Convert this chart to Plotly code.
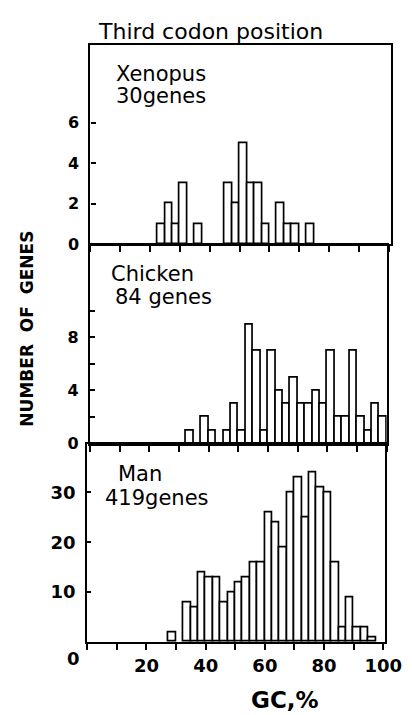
import plotly.graph_objects as go

# ---- data (GC% bin lower edge, 2.5% bins) ----
BIN_W = 2.5
xenopus_bins = [22.5, 25, 27.5, 30, 35, 45, 47.5, 50, 52.5, 55, 57.5, 62.5, 65, 67.5, 72.5]
xenopus_counts = [1, 2, 1, 3, 1, 3, 2, 5, 3, 3, 1, 2, 1, 1, 1]

chicken_bins = [32.5, 37.5, 40, 45, 47.5, 50, 52.5, 55, 57.5, 60, 62.5, 65, 67.5, 70, 72.5,
                75, 77.5, 80, 82.5, 85, 87.5, 90, 92.5, 95, 97.5]
chicken_counts = [1, 2, 1, 1, 3, 1, 9, 7, 1, 7, 4, 3, 5, 3, 3,
                  4, 3, 7, 2, 2, 7, 2, 1, 3, 2]

man_bins = [27.5, 32.5, 35, 37.5, 40, 42.5, 45, 47.5, 50, 52.5, 55, 57.5, 60, 62.5, 65,
            67.5, 70, 72.5, 75, 77.5, 80, 82.5, 85, 87.5, 90, 92.5, 95]
man_counts = [2, 8, 7, 14, 13, 13, 8, 10, 12, 13, 16, 16, 26, 24, 19,
              30, 33, 25, 34, 31, 30, 16, 3, 9, 3, 3, 1]

x_tickvals = [0, 10, 20, 30, 40, 50, 60, 70, 80, 90, 100]
x_ticktext = ["", "", "20", "", "40", "", "60", "", "80", "", "100"]
xen_yticks = [0, 2, 4, 6]
xen_ylabels = ["0", "2", "4", "6"]
chk_yticks = [0, 2, 4, 6, 8, 10]
chk_ylabels = ["0", "", "4", "", "8", ""]
man_yticks = [10, 20, 30]
man_ylabels = ["10", "20", "30"]

W, H = 412, 715
FONT = "DejaVu Sans"


def px_x(p):
    return p / W


def px_y(p):
    return 1 - p / H


def bars(bins, counts, xa, ya):
    return go.Bar(
        x=[b + BIN_W / 2 for b in bins], y=counts, width=BIN_W,
        marker=dict(color="white", line=dict(color="black", width=1.7)),
        xaxis=xa, yaxis=ya, showlegend=False, hoverinfo="x+y",
    )


fig = go.Figure()
fig.add_trace(bars(xenopus_bins, xenopus_counts, "x", "y"))
fig.add_trace(bars(chicken_bins, chicken_counts, "x2", "y2"))
fig.add_trace(bars(man_bins, man_counts, "x3", "y3"))

common_x = dict(showline=True, linecolor="black", linewidth=2.2, mirror=True,
                ticks="outside", ticklen=6, tickwidth=2, tickcolor="black",
                tickvals=x_tickvals, ticktext=x_ticktext,
                showgrid=False, zeroline=False, fixedrange=True)
common_y = dict(showline=True, linecolor="black", linewidth=2.2, mirror=True,
                ticks="inside", ticklen=5, tickwidth=2, tickcolor="black",
                showgrid=False, zeroline=False, fixedrange=True,
                ticklabelstandoff=6)

fig.update_layout(
    width=W, height=H, autosize=False,
    margin=dict(l=0, r=0, t=0, b=0),
    paper_bgcolor="white", plot_bgcolor="white",
    bargap=0,
    font=dict(family=FONT, color="black"),
    xaxis=dict(common_x, domain=[px_x(86.0), px_x(399.3)], range=[0, 100.7],
               anchor="y", showticklabels=False),
    yaxis=dict(common_y, domain=[px_y(239.5), px_y(37.8)], range=[0, 9.84],
               anchor="x", tickvals=xen_yticks, ticktext=xen_ylabels,
               tickfont=dict(family=FONT, size=16, color="black", weight="bold")),
    xaxis2=dict(common_x, domain=[px_x(85.4), px_x(395.0)], range=[0, 100],
                anchor="y2", showticklabels=False),
    yaxis2=dict(common_y, domain=[px_y(441.7), px_y(240.0)], range=[0, 15],
                anchor="x2", tickvals=chk_yticks, ticktext=chk_ylabels,
                tickfont=dict(family=FONT, size=16, color="black", weight="bold")),
    xaxis3=dict(common_x, domain=[px_x(82.7), px_x(393.3)], range=[0, 100.6],
                anchor="y3", showticklabels=True,
                tickfont=dict(family=FONT, size=18, color="black", weight="bold")),
    yaxis3=dict(common_y, domain=[px_y(643.0), px_y(441.7)], range=[0, 39.8],
                anchor="x3", tickvals=man_yticks, ticktext=man_ylabels, ticklen=4,
                tickfont=dict(family=FONT, size=18, color="black", weight="bold")),
)


def note(text, x, y, size=20, xanchor="left", bold=False, angle=0):
    fig.add_annotation(
        text=text, xref="paper", yref="paper", x=px_x(x), y=px_y(y),
        xanchor=xanchor, yanchor="middle", showarrow=False, textangle=angle,
        borderpad=0,
        font=dict(family=FONT, size=size, color="black",
                  weight="bold" if bold else "normal"),
    )


note("Third codon position", 93, 24, size=22)
note("Xenopus", 112, 67, size=21)
note("30genes", 112, 89, size=21)
note("Chicken", 106, 270, size=21)
note("84 genes", 111, 293, size=21)
note("Man", 114, 473, size=21)
note("419genes", 100, 497, size=21)
note("0", 68, 660, size=18, xanchor="center", bold=True)
note("GC,%", 289, 702, size=23, xanchor="center", bold=True)
note("NUMBER  OF  GENES", 20, 325, size=17, xanchor="center", bold=True, angle=-90)

fig.write_html("out.html")
